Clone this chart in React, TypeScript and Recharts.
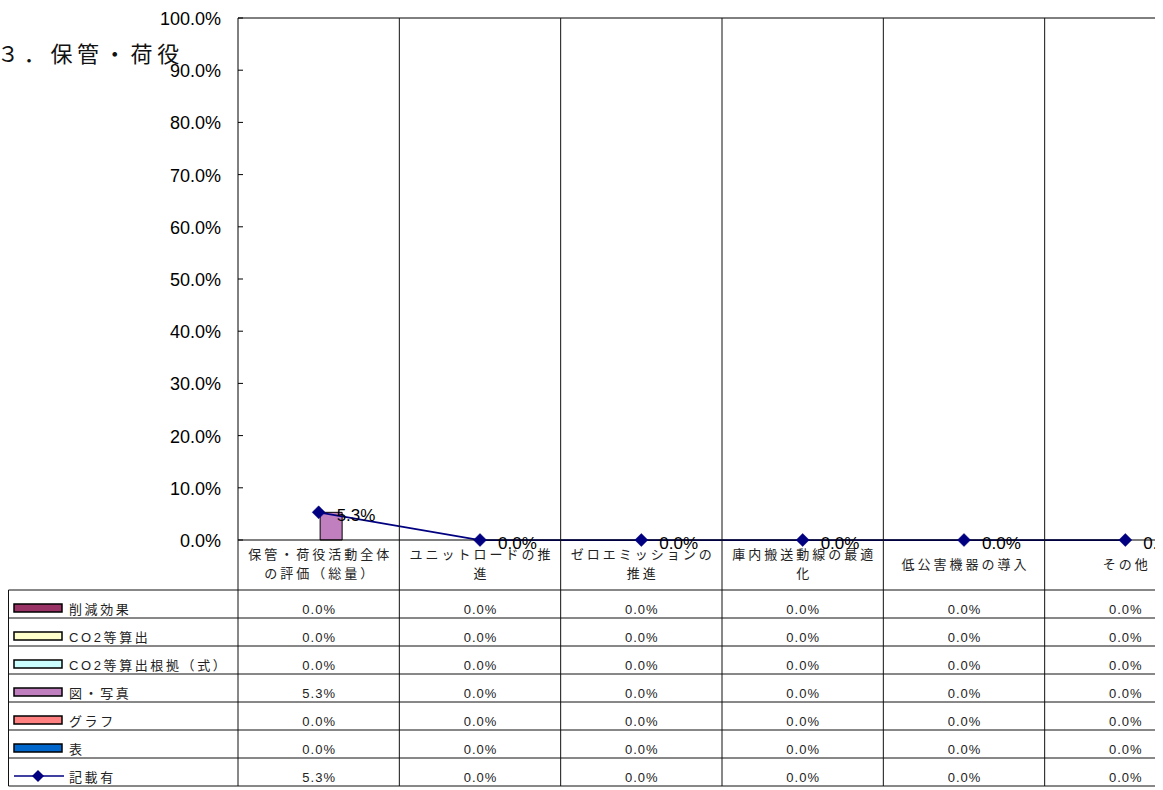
import React from 'react';
import { ComposedChart, Bar, Line, XAxis, YAxis, ReferenceLine } from 'recharts';

// ---- data ----
const categories = [
  '保管・荷役活動全体の評価（総量）',
  'ユニットロードの推進',
  'ゼロエミッションの推進',
  '庫内搬送動線の最適化',
  '低公害機器の導入',
  'その他',
];
const sakugenKouka = [0, 0, 0, 0, 0, 0];
const co2Santei = [0, 0, 0, 0, 0, 0];
const co2Konkyo = [0, 0, 0, 0, 0, 0];
const zuShashin = [0.053, 0, 0, 0, 0, 0];
const gurafu = [0, 0, 0, 0, 0, 0];
const hyou = [0, 0, 0, 0, 0, 0];
const kisaiAri = [0.053, 0, 0, 0, 0, 0];
const yTicks = [0, 0.1, 0.2, 0.3, 0.4, 0.5, 0.6, 0.7, 0.8, 0.9, 1.0];
const seriesNames = ['削減効果', 'CO2等算出', 'CO2等算出根拠（式）', '図・写真', 'グラフ', '表', '記載有'];
const seriesColors = ['#993366', '#FFFFCC', '#CCFFFF', '#C080C0', '#FF8080', '#0066CC', '#000080'];
const seriesValues = [sakugenKouka, co2Santei, co2Konkyo, zuShashin, gurafu, hyou, kisaiAri];
const title = '３．保管・荷役';

const data = categories.map((name, i) => {
  const row: any = { name };
  seriesValues.forEach((vals, s) => {
    row['s' + s] = vals[i];
  });
  return row;
});

// ---- layout ----
const W = 1210;
const H = 790;
const MARGIN = { top: 18, right: 4, left: 0, bottom: 0 };
const Y_W = 238;
const X_H = 250;
const PLOT_W = W - MARGIN.left - MARGIN.right - Y_W;
const PLOT_TOP = MARGIN.top;
const TABLE_OFF = 50; // from axis to table top
const ROW_H = 28;
const TABLE_LEFT = 8.5;
const CLIP_W = 1155;

const fontJP = '"Noto Sans CJK JP", "Noto Sans", sans-serif';
const fontAr = '"Liberation Sans", Arial, "Noto Sans CJK JP", sans-serif';
const textCol = '#222';

const pct = (v: number) => (v * 100).toFixed(1) + '%';

const splitLabel = (s: string) => {
  const out: string[] = [];
  for (let i = 0; i < s.length; i += 9) out.push(s.slice(i, i + 9));
  return out;
};

const YTick = (props: any) => {
  const { x, y, payload } = props;
  return (
    <g>
      <line x1={x + 17} x2={x + 22} y1={y} y2={y} stroke="#000" strokeWidth={1} />
      <text x={x} y={y} dy={7} textAnchor="end" fontSize={18} fontFamily={fontAr} fill="#000">
        {pct(payload.value)}
      </text>
    </g>
  );
};

const CategoryTick = (props: any) => {
  const { x, y, index } = props;
  const band = PLOT_W / categories.length;
  const tableTop = y + TABLE_OFF;
  const tableBottom = tableTop + ROW_H * seriesNames.length;
  const lines = splitLabel(categories[index]);
  const lineYs = lines.length === 1 ? [y + 29] : [y + 19, y + 38];
  const rightX = x + band / 2;
  const leftX = x - band / 2;
  return (
    <g>
      {/* right boundary grid line through plot and table */}
      <line x1={rightX} x2={rightX} y1={PLOT_TOP} y2={tableBottom} stroke="#111" strokeWidth={1} />
      {index === 0 && (
        <g>
          <line x1={leftX} x2={leftX} y1={y} y2={tableBottom} stroke="#111" strokeWidth={1} />
          <line x1={TABLE_LEFT} x2={TABLE_LEFT} y1={tableTop} y2={tableBottom} stroke="#111" strokeWidth={1} />
          {Array.from({ length: seriesNames.length + 1 }).map((_, r) => (
            <line
              key={'h' + r}
              x1={TABLE_LEFT}
              x2={W}
              y1={tableTop + r * ROW_H}
              y2={tableTop + r * ROW_H}
              stroke="#111"
              strokeWidth={1}
            />
          ))}
          {seriesNames.map((nm, r) => {
            const top = tableTop + r * ROW_H;
            const isLine = r === seriesNames.length - 1;
            return (
              <g key={'lg' + r}>
                {isLine ? (
                  <g>
                    <line x1={14} x2={64} y1={top + 18} y2={top + 18} stroke={seriesColors[r]} strokeWidth={1.5} />
                    <polygon
                      points={`38,${top + 12} 44,${top + 18} 38,${top + 24} 32,${top + 18}`}
                      fill={seriesColors[r]}
                    />
                  </g>
                ) : (
                  <rect x={14} y={top + 14} width={48} height={8} fill={seriesColors[r]} stroke="#000" strokeWidth={1.5} />
                )}
                <text x={69} y={top + 23.5} fontSize={13} fontFamily={fontAr} letterSpacing={2.6} fill={textCol}>
                  {nm}
                </text>
              </g>
            );
          })}
        </g>
      )}
      {lines.map((ln, k) => (
        <text
          key={'c' + k}
          x={x + 1.5}
          y={lineYs[k]}
          textAnchor="middle"
          fontSize={13}
          fontFamily={fontJP}
          letterSpacing={3}
          fill={textCol}
        >
          {ln}
        </text>
      ))}
      {seriesValues.map((vals, r) => (
        <text
          key={'v' + r}
          x={x + 0.5}
          y={tableTop + r * ROW_H + 23.5}
          textAnchor="middle"
          fontSize={13}
          fontFamily={fontAr}
          letterSpacing={1}
          fill={textCol}
        >
          {pct(vals[index])}
        </text>
      ))}
    </g>
  );
};

const Diamond = (props: any) => {
  const { cx, cy } = props;
  if (cx == null || cy == null) return null;
  return (
    <polygon
      points={`${cx},${cy - 6.5} ${cx + 6.5},${cy} ${cx},${cy + 6.5} ${cx - 6.5},${cy}`}
      fill="#000080"
      stroke="#000080"
      strokeWidth={0.5}
    />
  );
};

const LineLabel = (props: any) => {
  const { x, y, value } = props;
  return (
    <text x={x + 18} y={y + 8.5} fontSize={17} fontFamily={fontAr} fill="#000">
      {pct(value)}
    </text>
  );
};

export default function App() {
  return (
    <div style={{ position: 'absolute', left: 0, top: 0, width: CLIP_W, height: H, overflow: 'hidden', background: '#fff' }}>
      <ComposedChart
        width={W}
        height={H}
        data={data}
        margin={MARGIN}
        barCategoryGap="10%"
        barGap={0}
      >
        <ReferenceLine y={1} stroke="#000" strokeWidth={1} ifOverflow="extendDomain" />
        <YAxis
          type="number"
          domain={[0, 1]}
          ticks={yTicks}
          interval={0}
          width={Y_W}
          axisLine={{ stroke: '#000', strokeWidth: 1 }}
          tickLine={false}
          tickSize={0}
          tickMargin={17}
          tick={(p: any) => <YTick {...p} />}
        />
        <XAxis
          dataKey="name"
          height={X_H}
          interval={0}
          axisLine={{ stroke: '#000', strokeWidth: 1 }}
          tickLine={false}
          tickSize={0}
          tickMargin={0}
          tick={(p: any) => <CategoryTick {...p} />}
        />
        {[0, 1, 2, 3, 4, 5].map((s) => (
          <Bar
            key={'b' + s}
            dataKey={'s' + s}
            name={seriesNames[s]}
            fill={seriesColors[s]}
            stroke="#000"
            strokeWidth={1}
            isAnimationActive={false}
          />
        ))}
        <Line
          type="linear"
          dataKey="s6"
          name={seriesNames[6]}
          stroke="#000080"
          strokeWidth={1.75}
          dot={(p: any) => <Diamond key={'d' + p.index} {...p} />}
          activeDot={false}
          label={(p: any) => <LineLabel key={'l' + p.index} {...p} />}
          isAnimationActive={false}
        />
      </ComposedChart>
      <div
        style={{
          position: 'absolute',
          left: -3,
          top: 41,
          fontSize: 22,
          lineHeight: '22px',
          letterSpacing: 4.7,
          fontFamily: fontJP,
          color: '#111',
          whiteSpace: 'nowrap',
        }}
      >
        {title}
      </div>
    </div>
  );
}
